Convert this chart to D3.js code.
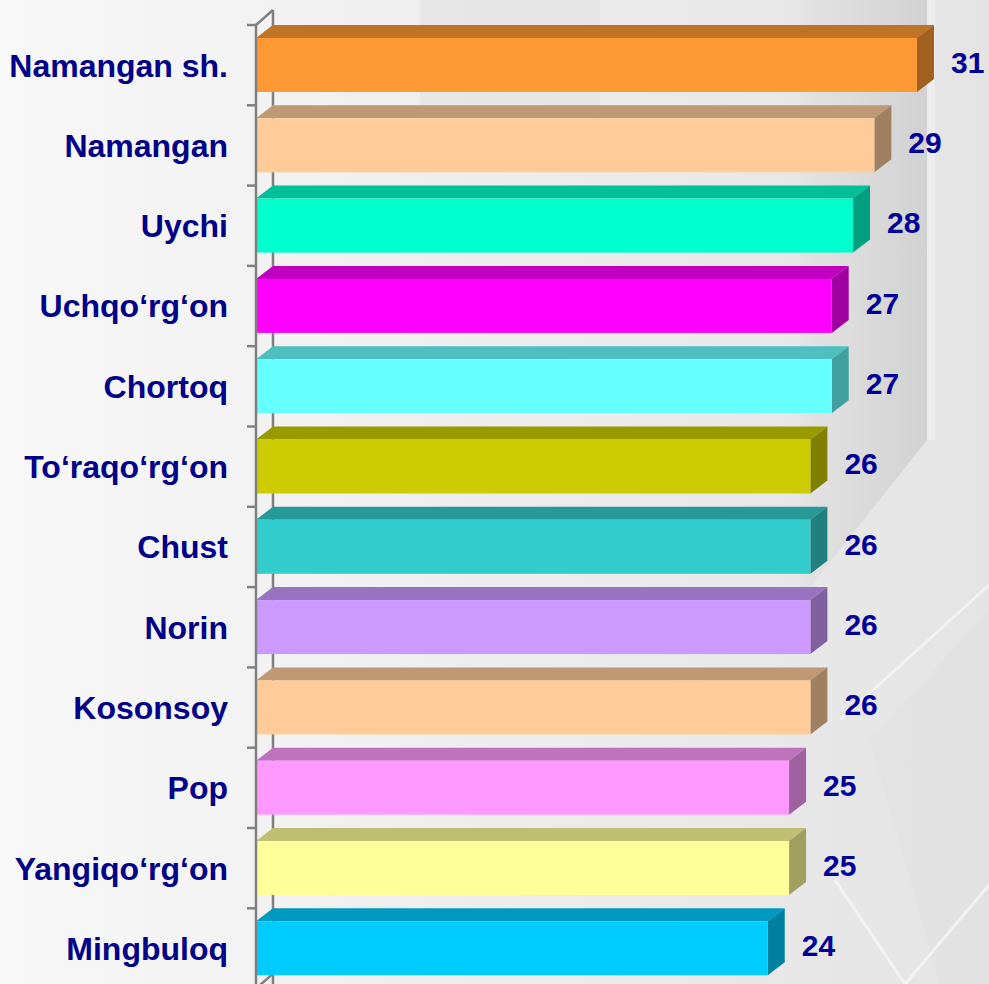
<!DOCTYPE html>
<html>
<head>
<meta charset="utf-8">
<script src="https://cdn.jsdelivr.net/npm/d3@7"></script>
<style>
  html, body { margin: 0; padding: 0; background: #f2f2f2; }
  svg { display: block; }
</style>
</head>
<body>
<div id="content"></div>
<script>
var width = 989;
var height = 984;

// data
var districts = ["Namangan sh.", "Namangan", "Uychi", "Uchqo\u2018rg\u2018on", "Chortoq",
    "To\u2018raqo\u2018rg\u2018on", "Chust", "Norin", "Kosonsoy", "Pop", "Yangiqo\u2018rg\u2018on", "Mingbuloq"];
var values = [31, 29, 28, 27, 27, 26, 26, 26, 26, 25, 25, 24];
var barColors = ["#FF9933", "#FFCC99", "#00FFCC", "#FF00FF", "#66FFFF", "#CCCC00",
    "#33CCCC", "#CC99FF", "#FFCC99", "#FF99FF", "#FFFF99", "#00CCFF"];

var depthX = 17, depthY = 13, faceH = 54;

var x = d3.scaleLinear().domain([0, 31]).range([256, 917]);
var y = d3.scaleBand().domain(districts).range([25, 25 + 12 * 80.3]);

function shade(c, k) {
    var col = d3.rgb(c);
    return d3.rgb(col.r * k, col.g * k, col.b * k).formatHex();
}

var svg = d3.select('#content').append('svg')
    .attr('width', width)
    .attr('height', height);

// background
var defs = svg.append('defs');
var bg = defs.append('linearGradient').attr('id', 'bg').attr('x1', 0).attr('x2', 1).attr('y1', 0).attr('y2', 0);
bg.append('stop').attr('offset', '0%').attr('stop-color', '#f8f8f8');
bg.append('stop').attr('offset', '55%').attr('stop-color', '#ececec');
bg.append('stop').attr('offset', '100%').attr('stop-color', '#e4e4e4');
var panel = defs.append('linearGradient').attr('id', 'panel').attr('x1', 0).attr('x2', 1).attr('y1', 0).attr('y2', 0);
panel.append('stop').attr('offset', '0%').attr('stop-color', '#e2e2e2');
panel.append('stop').attr('offset', '100%').attr('stop-color', '#cbcbcb');

svg.append('rect').attr('width', width).attr('height', height).attr('fill', 'url(#bg)');

var bgShapes = [
    [[820, 0], [927, 0], [927, 440], [800, 600], [800, 0]],
    [[420, 0], [600, 0], [600, 120], [420, 120]],
    [[870, 740], [989, 610], [989, 984], [940, 984]]
];
svg.append('g').selectAll('polygon')
    .data(bgShapes)
    .enter()
    .append('polygon')
    .attr('points', function(d) { return d.join(' '); })
    .attr('fill', function(d, i) { return i === 0 ? 'url(#panel)' : '#e0e0e0'; })
    .attr('opacity', function(d, i) { return i === 0 ? 0.75 : 0.5; });

svg.append('rect').attr('x', 927).attr('y', 0).attr('width', 8).attr('height', 440)
    .attr('fill', '#efefef').attr('opacity', 0.8);

var whiteLines = [
    [[840, 720], [989, 585]],
    [[835, 880], [905, 984]],
    [[905, 984], [989, 885]]
];
svg.append('g').selectAll('line')
    .data(whiteLines)
    .enter()
    .append('line')
    .attr('x1', function(d) { return d[0][0]; })
    .attr('y1', function(d) { return d[0][1]; })
    .attr('x2', function(d) { return d[1][0]; })
    .attr('y2', function(d) { return d[1][1]; })
    .style('stroke', '#f7f7f7').style('stroke-width', 3).style('opacity', 0.8);

// axis: back wall line, top diagonal, bottom diagonal
var axisG = svg.append('g').style('stroke', '#808080').style('stroke-width', 2.5).style('fill', 'none');
var x0 = x(0);
var yTop = y.range()[0];
var yBottom = y.range()[1];
axisG.append('line').attr('x1', x0 + depthX).attr('y1', yTop - depthY - 2).attr('x2', x0 + depthX).attr('y2', yBottom);
axisG.append('line').attr('x1', x0).attr('y1', yTop).attr('x2', x0 + depthX).attr('y2', yTop - depthY - 2);
axisG.append('line').attr('x1', x0).attr('y1', yBottom).attr('x2', x0 + depthX).attr('y2', yBottom - depthY - 2);

// bars
var bars = svg.append('g').selectAll('g.bar')
    .data(districts)
    .enter()
    .append('g').attr('class', 'bar');

function faceTop(d) { return y(d) + depthY; }

bars.append('polygon')
    .attr('points', function(d, i) {
        var x1 = x(values[i]), t = faceTop(d);
        return [[x0, t], [x0 + depthX, t - depthY], [x1 + depthX, t - depthY], [x1, t]].join(' ');
    })
    .style('fill', function(d, i) { return shade(barColors[i], 0.75); });

bars.append('polygon')
    .attr('points', function(d, i) {
        var x1 = x(values[i]), t = faceTop(d);
        return [[x1, t], [x1 + depthX, t - depthY], [x1 + depthX, t + faceH - depthY], [x1, t + faceH]].join(' ');
    })
    .style('fill', function(d, i) { return shade(barColors[i], 0.625); });

bars.append('rect')
    .attr('x', x0)
    .attr('y', faceTop)
    .attr('width', function(d, i) { return x(values[i]) - x0; })
    .attr('height', faceH)
    .style('fill', function(d, i) { return barColors[i]; });

// front axis line and ticks
var frontG = svg.append('g').style('stroke', '#808080').style('stroke-width', 2.5);
frontG.append('line').attr('x1', x0).attr('y1', yTop).attr('x2', x0).attr('y2', height);
var tickYs = districts.map(function(d) { return y(d); }).concat([yBottom]);
frontG.selectAll('line.tick')
    .data(tickYs)
    .enter()
    .append('line').attr('class', 'tick')
    .attr('x1', x0 - 9).attr('x2', x0)
    .attr('y1', function(d) { return d; })
    .attr('y2', function(d) { return d; });

// category labels
svg.append('g').selectAll('text')
    .data(districts)
    .enter()
    .append('text')
    .attr('x', 228)
    .attr('y', function(d) { return faceTop(d) + faceH / 2; })
    .attr('dy', '0.36em')
    .attr('text-anchor', 'end')
    .style('font-family', '"Liberation Sans", Arial, sans-serif')
    .style('font-weight', 'bold')
    .style('font-size', '32px')
    .style('fill', '#000088')
    .text(function(d) { return d; });

// value labels
svg.append('g').selectAll('text')
    .data(districts)
    .enter()
    .append('text')
    .attr('x', function(d, i) { return x(values[i]) + 34; })
    .attr('y', function(d) { return faceTop(d) + faceH / 2 - 3; })
    .attr('dy', '0.36em')
    .style('font-family', '"Liberation Sans", Arial, sans-serif')
    .style('font-weight', 'bold')
    .style('font-size', '30px')
    .style('fill', '#000099')
    .text(function(d, i) { return values[i]; });
</script>
</body>
</html>
